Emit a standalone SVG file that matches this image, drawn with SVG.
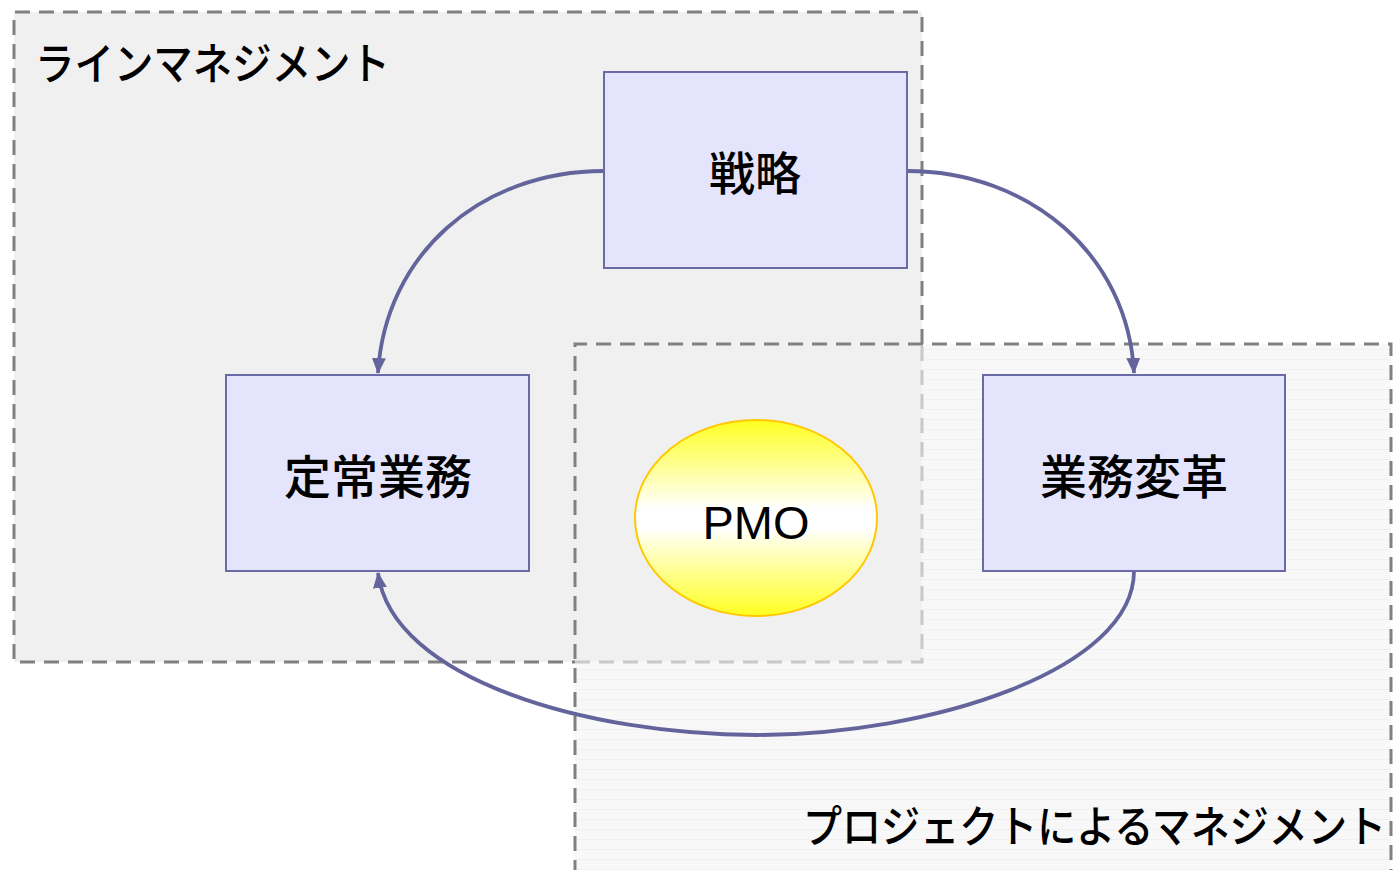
<svg xmlns="http://www.w3.org/2000/svg" width="1400" height="870" viewBox="0 0 1400 870">
<style>
.box{fill:#e4e4fc;stroke:#6a6aa6;stroke-width:2}
.lbl{font-family:"Noto Sans CJK JP","Noto Sans",sans-serif;fill:#000;font-weight:500}
.edge{fill:none;stroke:#64649c;stroke-width:3.8}
.dash{fill:none;stroke:#808080;stroke-width:3;stroke-dasharray:15 9}
.dashl{fill:none;stroke:#c8c8c8;stroke-width:3;stroke-dasharray:15 9}
</style>
<defs>
<pattern id="stripes" width="10" height="10" patternUnits="userSpaceOnUse">
<rect width="10" height="10" fill="#f8f8f8"/>
<rect y="9" width="10" height="1" fill="#f1f1f1"/>
</pattern>
<linearGradient id="pmo" x1="0" y1="0" x2="0" y2="1">
<stop offset="0" stop-color="#ffff20"/>
<stop offset="0.45" stop-color="#ffffff"/>
<stop offset="0.55" stop-color="#ffffff"/>
<stop offset="1" stop-color="#ffff20"/>
</linearGradient>
<marker id="arr" markerUnits="userSpaceOnUse" markerWidth="16" markerHeight="14" refX="15" refY="7" orient="auto">
<path d="M0,0 L16,7 L0,14 Z" fill="#64649c"/>
</marker>
</defs>
<g id="project-mgmt">
<rect x="575" y="344" width="816" height="540" fill="url(#stripes)"/>
</g>
<g id="line-mgmt">
<rect x="14" y="12" width="908" height="650" fill="#f0f0f0"/>
<path class="dash" d="M922,344 L922,12 L14,12 L14,662 L575,662"/>
<path class="dashl" d="M575,662 L922,662 L922,344"/>
<text class="lbl" x="35" y="80" font-size="44" textLength="355" lengthAdjust="spacingAndGlyphs">ラインマネジメント</text>
</g>
<g id="project-border">
<path class="dash" d="M575,875 L575,344 L1391,344 L1391,875"/>
<text class="lbl" x="803" y="843" font-size="44" textLength="583" lengthAdjust="spacingAndGlyphs">プロジェクトによるマネジメント</text>
</g>
<g id="connectors">
<path class="edge" marker-end="url(#arr)" d="M604,171 C480,171 385,255 378,373"/>
<path class="edge" marker-end="url(#arr)" d="M907,171 C1030,171 1128,255 1134,373"/>
<path class="edge" marker-end="url(#arr)" d="M1134,571 C1134,670 930,735 756,735 C590,735 392,680 378,573"/>
</g>
<g id="senryaku">
<rect class="box" x="604" y="72" width="303" height="196"/>
<text class="lbl" x="755" y="190" font-size="46" text-anchor="middle">戦略</text>
</g>
<g id="teijou">
<rect class="box" x="226" y="375" width="303" height="196"/>
<text class="lbl" x="378" y="494" font-size="47" text-anchor="middle">定常業務</text>
</g>
<g id="henkaku">
<rect class="box" x="983" y="375" width="302" height="196"/>
<text class="lbl" x="1134" y="494" font-size="47" text-anchor="middle">業務変革</text>
</g>
<g id="pmo-node">
<ellipse cx="756" cy="518" rx="121" ry="98" fill="url(#pmo)" stroke="#ffc800" stroke-width="2"/>
<text x="756" y="539" font-family="Liberation Sans, Arial, sans-serif" font-size="47" text-anchor="middle" fill="#000">PMO</text>
</g>
</svg>
